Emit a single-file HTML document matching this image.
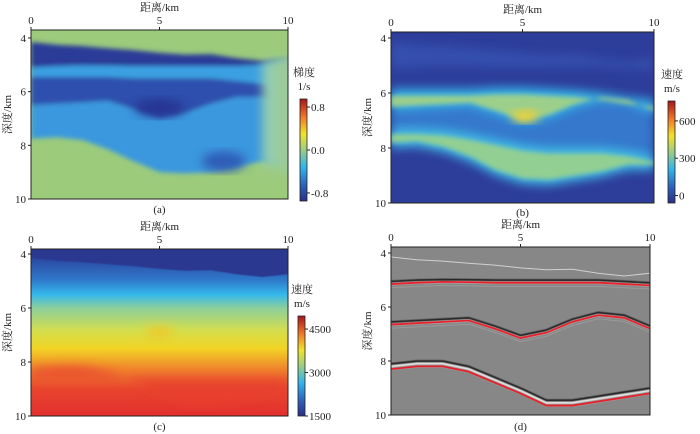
<!DOCTYPE html>
<html><head><meta charset="utf-8">
<style>
html,body{margin:0;padding:0;background:#fff;}
svg{display:block;font-family:"Liberation Serif","Noto Serif CJK SC",serif;}
</style></head>
<body>
<svg id="fig" width="700" height="434" viewBox="0 0 700 434" xmlns="http://www.w3.org/2000/svg">
<defs>
<linearGradient id="jet" x1="0" y1="1" x2="0" y2="0">
<stop offset="0" stop-color="#2b2f86"/><stop offset="0.15" stop-color="#2d5fb8"/>
<stop offset="0.33" stop-color="#32b4ec"/><stop offset="0.5" stop-color="#9ccd86"/>
<stop offset="0.66" stop-color="#f2e22a"/><stop offset="0.82" stop-color="#f07a2a"/>
<stop offset="1" stop-color="#a8151c"/></linearGradient>
<filter id="bl" x="-20%" y="-20%" width="140%" height="140%"><feGaussianBlur stdDeviation="5"/></filter>
<filter id="bl2" x="-20%" y="-20%" width="140%" height="140%"><feGaussianBlur stdDeviation="2.5"/></filter>
<filter id="bl0" x="-20%" y="-20%" width="140%" height="140%"><feGaussianBlur stdDeviation="0.5"/></filter>
</defs>
</svg>
<script>
// ---- data ----
const xs = [0,1,2,3,4,5,6,7,8,9,10];
const horizon1 = [4.15,4.25,4.3,4.38,4.45,4.55,4.62,4.6,4.75,4.85,4.75];
const horizon2 = [5.1,5.05,5.02,5.03,5.05,5.05,5.05,5.05,5.05,5.1,5.15];
const horizon3 = [6.6,6.55,6.5,6.45,6.75,7.1,6.9,6.5,6.25,6.35,6.75];
const horizon4 = [8.15,8.05,8.05,8.25,8.65,9.05,9.5,9.5,9.35,9.2,9.05];
const xTicks = [0,5,10];
const yTicks = [4,6,8,10];
const cbTicksA = [0.8,0.0,-0.8];
const cbTicksB = [600,300,0];
const cbTicksC = [4500,3000,1500];
// gradient (a) bands
const aDarkBot = [5.1,5.05,5.02,5.03,5.05,5.05,5.05,5.05,5.05,5.0,4.8];
const aLightBot = [5.45,5.45,5.45,5.45,5.5,5.5,5.5,5.5,5.6,5.7,5.8];
const aDeepBot = [6.5,6.45,6.4,6.35,6.65,7.0,6.8,6.45,6.2,6.2,6.5];
const aMidBot = [7.75,7.7,7.8,8.15,8.6,9.0,9.05,9.0,8.8,8.6,8.6];
// velocity update (b)
const bBand1Top = [6.0,6.0,6.0,6.0,5.95,5.95,6.0,6.05,6.15,6.3,6.4];
const bBand2Top = [7.5,7.5,7.55,7.7,7.9,8.1,8.2,8.2,8.2,8.3,8.5];
const bBand2Bot = [7.9,7.85,8.05,8.4,8.9,9.2,9.25,9.1,8.95,8.7,8.7];
// velocity (c) colours by depth
const cDepths = [4.2,5.0,5.5,6.0,6.8,7.5,8.2,9.0,10.0];
const cColors = ["#2c4aa4","#2f7ccc","#34b8ec","#8ccf9c","#d2de50","#f2d424","#f08a2c","#e8452e","#e2302e"];

const NS="http://www.w3.org/2000/svg";
const svg=document.getElementById('fig');
function mk(tag,attrs,parent){const e=document.createElementNS(NS,tag);for(const k in attrs)e.setAttribute(k,attrs[k]);(parent||svg).appendChild(e);return e;}
function txt(s,x,y,anchor,size,parent){const t=mk('text',{x:x,y:y,'text-anchor':anchor,'font-size':size,fill:'#222'},parent);t.textContent=s;return t;}

const panels=[
 {id:'a',L:31,R:288,T:30,y4:38,y10:199,lab:'(a)',labY:213,cb:{x:300,t:99,b:201,ticks:cbTicksA,min:-0.95,max:0.95,title:['梯度','1/s']}},
 {id:'b',L:391,R:654,T:32,y4:38,y10:203,lab:'(b)',labY:216,cb:{x:668,t:101,b:203,ticks:cbTicksB,min:-60,max:760,title:['速度','m/s']}},
 {id:'c',L:31,R:288,T:249,y4:254,y10:416,lab:'(c)',labY:430,cb:{x:298,t:316,b:416,ticks:cbTicksC,min:1500,max:4950,title:['速度','m/s']}},
 {id:'d',L:391,R:650,T:247,y4:253,y10:415,lab:'(d)',labY:430,cb:null}
];

function scales(p){
 const sx=v=>p.L+(v/10)*(p.R-p.L);
 const sy=d=>p.y4+(d-4)/6*(p.y10-p.y4);
 return {sx,sy};
}
function bandPath(s,top,bot){
 let d='';
 xs.forEach((x,i)=>{d+=(i?'L':'M')+s.sx(x)+','+s.sy(top[i]);});
 for(let i=xs.length-1;i>=0;i--)d+='L'+s.sx(xs[i])+','+s.sy(bot[i]);
 return d+'Z';
}
function linePath(s,arr,off){
 let d='';xs.forEach((x,i)=>{d+=(i?'L':'M')+s.sx(x)+','+(s.sy(arr[i])+(off||0));});return d;
}
const const3=v=>xs.map(()=>v);

panels.forEach(p=>{
 const s=scales(p);
 const g=mk('g',{});
 
 
 const clipId='clip'+p.id;
 const cp=mk('clipPath',{id:clipId},g);mk('rect',{x:p.L,y:p.T,width:p.R-p.L,height:p.y10-p.T},cp);
 const area=mk('g',{'clip-path':'url(#'+clipId+')'},g);
 
 
 const W=p.R-p.L,H=p.y10-p.T;
 if(p.id==='a'){
  mk('rect',{x:p.L,y:p.T,width:W,height:H,fill:'#9ccb7c'},area);
  const bl=mk('g',{filter:'url(#bl2)'},area);
  mk('path',{d:bandPath(s,horizon1,aDarkBot),fill:'#2b3a98'},bl);
  mk('path',{d:bandPath(s,aDarkBot,aLightBot),fill:'#3aa0e2'},bl);
  mk('path',{d:bandPath(s,aLightBot,aDeepBot),fill:'#2f4fae'},bl);
  mk('path',{d:bandPath(s,aDeepBot,aMidBot),fill:'#3a98de'},bl);
  mk('ellipse',{cx:s.sx(5),cy:s.sy(6.6),rx:25,ry:9,fill:'#283692'},mk('g',{filter:'url(#bl)'},area));
  mk('ellipse',{cx:s.sx(7.5),cy:s.sy(8.6),rx:22,ry:10,fill:'#2f5cb6'},mk('g',{filter:'url(#bl)'},area));
  const pale=mk('g',{filter:'url(#bl)'},area);
  mk('rect',{x:s.sx(9.0),y:s.sy(4.85),width:W,height:s.sy(8.8)-s.sy(4.85),fill:'#94cdb0'},pale);
  mk('rect',{x:s.sx(9.5),y:s.sy(4.7),width:W,height:s.sy(9.0)-s.sy(4.7),fill:'#9ccb9a'},pale);
 } else if(p.id==='b'){
  mk('rect',{x:p.L,y:p.T,width:W,height:H,fill:'#2d3d9a'},area);
  const bl=mk('g',{filter:'url(#bl)'},area);
  mk('path',{d:bandPath(s,horizon1,horizon2),fill:'#3550ae'},bl);
  mk('path',{d:bandPath(s,bBand1Top.map(v=>v-0.15),horizon3.map(v=>v+0.1)),fill:'#36b2e8'},bl);
  mk('path',{d:bandPath(s,horizon3,bBand2Top),fill:'#3578cc'},bl);
  mk('path',{d:bandPath(s,bBand2Top.map(v=>v-0.2),bBand2Bot.map(v=>v+0.1)),fill:'#40b8e6'},bl);
  const bl2=mk('g',{filter:'url(#bl2)'},area);
  mk('path',{d:bandPath(s,bBand1Top.map(v=>v+0.1),horizon3.map(v=>v-0.1)),fill:'#9ccf8a'},bl2);
  mk('path',{d:bandPath(s,bBand2Top,bBand2Bot.map(v=>v-0.1)),fill:'#92cf92'},bl2);
  mk('ellipse',{cx:s.sx(5.1),cy:s.sy(6.85),rx:14,ry:6,fill:'#f0d232'},mk('g',{filter:'url(#bl)'},area));
 } else if(p.id==='c'){
  const gid='cgrad';
  const lg=mk('linearGradient',{id:gid,gradientUnits:'userSpaceOnUse',x1:0,y1:s.sy(4),x2:0,y2:s.sy(10)},g);
  cDepths.forEach((d,i)=>mk('stop',{offset:((d-4)/6).toFixed(3),'stop-color':cColors[i]},lg));
  mk('rect',{x:p.L,y:p.T,width:W,height:H,fill:'url(#'+gid+')'},area);
  const bl=mk('g',{filter:'url(#bl)'},area);
  mk('path',{d:bandPath(s,const3(8.6),horizon4.map(v=>v+0.1)),fill:'#e8402e',opacity:0.7},bl);
  mk('ellipse',{cx:s.sx(5),cy:s.sy(6.9),rx:14,ry:5,fill:'#f0c828'},bl);
  mk('path',{d:bandPath(s,const3(3),horizon1),fill:'#2b3890'},mk('g',{filter:'url(#bl0)'},area));
 } else {
  mk('rect',{x:p.L,y:p.T,width:W,height:H,fill:'#878787'},area);
  const ref=[[horizon1,0.2,0],[horizon2,0,1],[horizon3,0,1],[horizon4,0,1]];
  ref.forEach((r,i)=>{
   const arr=r[0];
   const line=mk('g',{},area);
   
   
   if(i===0){mk('path',{d:linePath(s,arr,0),fill:'none',stroke:'#d0d0d0','stroke-width':1},line);return;}
   mk('path',{d:linePath(s,arr,-1.2),fill:'none',stroke:'#151515','stroke-width':1.8,filter:'url(#bl0)'},line);
   mk('path',{d:linePath(s,arr,1.3),fill:'none',stroke:'#efefef','stroke-width':1.8,filter:'url(#bl0)'},line);
   mk('path',{d:linePath(s,arr,5),fill:'none',stroke:'#9a9a9a','stroke-width':1},line);
   const red=mk('path',{d:linePath(s,arr.map((v,j)=>v+(i===3?0.15:0.05)),0),fill:'none',stroke:'#e8202a','stroke-width':1.8},line);
   
   
  });
 }
 const fr=mk('rect',{x:p.L,y:p.T,width:W,height:H,fill:'none',stroke:'#222','stroke-width':1},g);
 
 
 xTicks.forEach(v=>{
  mk('line',{x1:s.sx(v),x2:s.sx(v),y1:p.T,y2:p.T-3,stroke:'#222'},g);
  const t=txt(String(v),s.sx(v),p.T-6,'middle',11,g);
  
  
 });
 const xt=txt('距离/km',(p.L+p.R)/2,p.T-19,'middle',11,g);
 
 
 yTicks.forEach(v=>{
  mk('line',{x1:p.L,x2:p.L-3,y1:s.sy(v),y2:s.sy(v),stroke:'#222'},g);
  const t=txt(String(v),p.L-5,s.sy(v)+4,'end',11,g);
  
  
 });
 const cy=(p.T+p.y10)/2;
 const yt=txt('深度/km',0,0,'middle',11,g);
 yt.setAttribute('transform','translate('+(p.L-20)+','+cy+') rotate(-90)');
 
 
 const pl=txt(p.lab,(p.L+p.R)/2,p.labY,'middle',11,g);
 
 
 if(p.cb){
  const c=p.cb;
  const cg=mk('g',{},g);
  
  
  mk('rect',{x:c.x,y:c.t,width:7,height:c.b-c.t,fill:'url(#jet)',stroke:'#222','stroke-width':0.8},cg);
  const cs=v=>c.b-(v-c.min)/(c.max-c.min)*(c.b-c.t);
  c.ticks.forEach(v=>{
   mk('line',{x1:c.x+7,x2:c.x+10,y1:cs(v),y2:cs(v),stroke:'#222'},cg);
   const lab=(p.id==='a')?v.toFixed(1):String(v);
   const t=txt(lab,c.x+11,cs(v)+4,'start',11,cg);
   
   
  });
  const t1=txt(c.title[0],c.x+4,c.t-23,'middle',11,cg);
  
  
  const t2=txt(c.title[1],c.x+4,c.t-9,'middle',11,cg);
  
  
 }
});
</script>
</body></html>
